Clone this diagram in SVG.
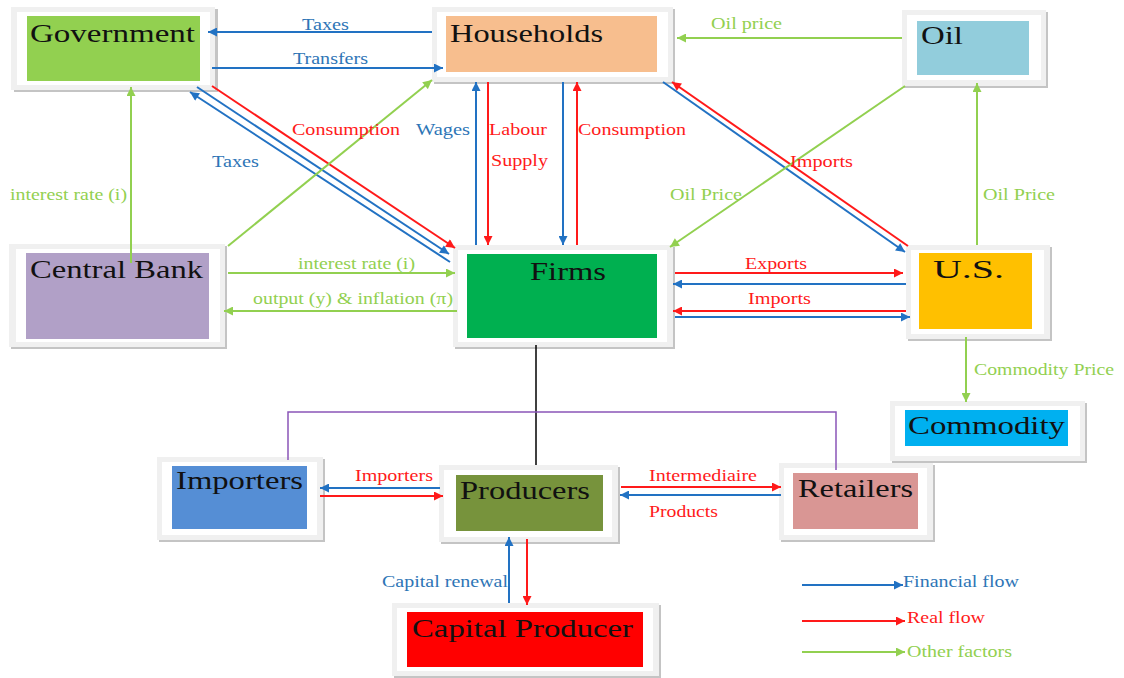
<svg xmlns="http://www.w3.org/2000/svg" width="1124" height="678" viewBox="0 0 1124 678">
<defs>
<style>
.sh{fill:#c4c4c4}
.fr{fill:#f0f0f0}
.wh{fill:#ffffff}
.nt{font-family:"Liberation Serif","Times New Roman",serif;font-size:25px;fill:#111111}
.lb{font-family:"Liberation Serif","Times New Roman",serif;font-size:16px}
.tb{fill:#2e75b6}
.tr{fill:#ff1a1a}
.tg{fill:#92d050}
.b{stroke:#2272c3;stroke-width:2;fill:none}
.r{stroke:#ff1a1a;stroke-width:2;fill:none}
.g{stroke:#92d050;stroke-width:2;fill:none}
.k{stroke:#000000;stroke-width:1.5;fill:none}
.p{stroke:#8a55b8;stroke-width:1.5;fill:none}
</style>
<marker id="mb" viewBox="0 0 10 10" refX="10" refY="5" markerWidth="11" markerHeight="9" markerUnits="userSpaceOnUse" orient="auto"><path d="M0,0L10,5L0,10z" fill="#2272c3"/></marker>
<marker id="mr" viewBox="0 0 10 10" refX="10" refY="5" markerWidth="11" markerHeight="9" markerUnits="userSpaceOnUse" orient="auto"><path d="M0,0L10,5L0,10z" fill="#ff1a1a"/></marker>
<marker id="mg" viewBox="0 0 10 10" refX="10" refY="5" markerWidth="11" markerHeight="9" markerUnits="userSpaceOnUse" orient="auto"><path d="M0,0L10,5L0,10z" fill="#92d050"/></marker>
</defs>
<rect width="1124" height="678" fill="#ffffff"/>

<g id="government">
<rect class="sh" x="14" y="9" width="204" height="83"/>
<rect class="fr" x="11" y="7" width="204" height="83"/>
<rect class="wh" x="17" y="12" width="193" height="73"/>
<rect x="27" y="16" width="173" height="65" fill="#92d050"/>
<text class="nt" x="30" y="42" textLength="165" lengthAdjust="spacingAndGlyphs">Government</text>
</g>
<g id="households">
<rect class="sh" x="434" y="9" width="241" height="75"/>
<rect class="fr" x="432" y="7" width="241" height="75"/>
<rect class="wh" x="437" y="12" width="231" height="65"/>
<rect x="446" y="16" width="211" height="56" fill="#f7be8e"/>
<text class="nt" x="450" y="42" textLength="153" lengthAdjust="spacingAndGlyphs">Households</text>
</g>
<g id="oil">
<rect class="sh" x="904" y="12" width="144" height="76"/>
<rect class="fr" x="902" y="10" width="144" height="76"/>
<rect class="wh" x="907" y="15" width="134" height="65"/>
<rect x="917" y="21" width="112" height="54" fill="#92cddc"/>
<text class="nt" x="921" y="44" font-size="24" textLength="42" lengthAdjust="spacingAndGlyphs">Oil</text>
</g>
<g id="central-bank">
<rect class="sh" x="11" y="246" width="216" height="103"/>
<rect class="fr" x="9" y="244" width="216" height="103"/>
<rect class="wh" x="16" y="249" width="204" height="93"/>
<rect x="26" y="253" width="183" height="86" fill="#b1a0c7"/>
<text class="nt" x="30" y="278" font-size="24" textLength="173" lengthAdjust="spacingAndGlyphs">Central Bank</text>
</g>
<g id="firms">
<rect class="sh" x="455" y="247" width="220" height="102"/>
<rect class="fr" x="453" y="245" width="220" height="102"/>
<rect class="wh" x="458" y="250" width="209" height="92"/>
<rect x="467" y="254" width="190" height="84" fill="#00b050"/>
<text class="nt" x="530" y="280" textLength="76" lengthAdjust="spacingAndGlyphs">Firms</text>
</g>
<g id="us">
<rect class="sh" x="908" y="247" width="144" height="94"/>
<rect class="fr" x="906" y="245" width="144" height="94"/>
<rect class="wh" x="911" y="250" width="133" height="84"/>
<rect x="919" y="253" width="113" height="76" fill="#ffc000"/>
<text class="nt" x="933" y="278" font-size="24" textLength="71" lengthAdjust="spacingAndGlyphs">U.S.</text>
</g>
<g id="commodity">
<rect class="sh" x="892" y="403" width="195" height="60"/>
<rect class="fr" x="890" y="401" width="195" height="60"/>
<rect class="wh" x="895" y="406" width="185" height="50"/>
<rect x="905" y="410" width="163" height="36" fill="#00b0f0"/>
<text class="nt" x="908" y="434" font-size="24" textLength="157" lengthAdjust="spacingAndGlyphs">Commodity</text>
</g>
<g id="importers">
<rect class="sh" x="159" y="459" width="166" height="83"/>
<rect class="fr" x="157" y="457" width="166" height="83"/>
<rect class="wh" x="162" y="462" width="155" height="73"/>
<rect x="172" y="466" width="135" height="63" fill="#558ed5"/>
<text class="nt" x="176" y="489" font-size="24" textLength="127" lengthAdjust="spacingAndGlyphs">Importers</text>
</g>
<g id="producers">
<rect class="sh" x="441" y="467" width="179" height="77"/>
<rect class="fr" x="439" y="465" width="179" height="77"/>
<rect class="wh" x="444" y="470" width="168" height="67"/>
<rect x="456" y="475" width="147" height="56" fill="#77933c"/>
<text class="nt" x="460" y="499" textLength="130" lengthAdjust="spacingAndGlyphs">Producers</text>
</g>
<g id="retailers">
<rect class="sh" x="781" y="465" width="154" height="77"/>
<rect class="fr" x="779" y="463" width="154" height="77"/>
<rect class="wh" x="784" y="468" width="143" height="67"/>
<rect x="793" y="473" width="125" height="56" fill="#d99694"/>
<text class="nt" x="798" y="497" font-size="24" textLength="115" lengthAdjust="spacingAndGlyphs">Retailers</text>
</g>
<g id="capital-producer">
<rect class="sh" x="394" y="605" width="267" height="73"/>
<rect class="fr" x="392" y="603" width="267" height="73"/>
<rect class="wh" x="397" y="608" width="256" height="63"/>
<rect x="407" y="612" width="236" height="55" fill="#ff0000"/>
<text class="nt" x="412" y="637" font-size="24" textLength="221" lengthAdjust="spacingAndGlyphs">Capital Producer</text>
</g>

<g id="connectors">
<line class="b" x1="432" y1="32" x2="208" y2="32" marker-end="url(#mb)"/>
<line class="b" x1="212" y1="68" x2="443" y2="68" marker-end="url(#mb)"/>
<line class="r" x1="212" y1="86" x2="455" y2="248" marker-end="url(#mr)"/>
<line class="b" x1="197" y1="87" x2="449" y2="254" marker-end="url(#mb)"/>
<line class="b" x1="450" y1="262" x2="190" y2="92" marker-end="url(#mb)"/>
<line class="g" x1="228" y1="246" x2="432" y2="80" marker-end="url(#mg)"/>
<line class="g" x1="131" y1="263" x2="131" y2="87" marker-end="url(#mg)"/>
<line class="g" x1="228" y1="273" x2="455" y2="273" marker-end="url(#mg)"/>
<line class="g" x1="457" y1="311" x2="224" y2="311" marker-end="url(#mg)"/>
<line class="b" x1="476" y1="245" x2="476" y2="82" marker-end="url(#mb)"/>
<line class="r" x1="488" y1="82" x2="488" y2="245" marker-end="url(#mr)"/>
<line class="b" x1="563" y1="82" x2="563" y2="245" marker-end="url(#mb)"/>
<line class="r" x1="577" y1="245" x2="577" y2="82" marker-end="url(#mr)"/>
<line class="b" x1="663" y1="82" x2="905" y2="252" marker-end="url(#mb)"/>
<line class="r" x1="908" y1="246" x2="672" y2="82" marker-end="url(#mr)"/>
<line class="g" x1="902" y1="38" x2="677" y2="38" marker-end="url(#mg)"/>
<line class="g" x1="905" y1="86" x2="670" y2="247" marker-end="url(#mg)"/>
<line class="g" x1="977" y1="245" x2="977" y2="83" marker-end="url(#mg)"/>
<line class="r" x1="675" y1="273" x2="903" y2="273" marker-end="url(#mr)"/>
<line class="b" x1="906" y1="284" x2="673" y2="284" marker-end="url(#mb)"/>
<line class="r" x1="906" y1="311" x2="673" y2="311" marker-end="url(#mr)"/>
<line class="b" x1="675" y1="317" x2="910" y2="317" marker-end="url(#mb)"/>
<line class="g" x1="966" y1="337" x2="966" y2="402" marker-end="url(#mg)"/>
<line class="k" x1="536" y1="345" x2="536" y2="465"/>
<polyline class="p" points="288,460 288,412 836,412 836,470"/>
<line class="b" x1="440" y1="488" x2="320" y2="488" marker-end="url(#mb)"/>
<line class="r" x1="320" y1="496" x2="443" y2="496" marker-end="url(#mr)"/>
<line class="r" x1="621" y1="487" x2="781" y2="487" marker-end="url(#mr)"/>
<line class="b" x1="781" y1="495" x2="620" y2="495" marker-end="url(#mb)"/>
<line class="b" x1="509" y1="603" x2="509" y2="537" marker-end="url(#mb)"/>
<line class="r" x1="527" y1="539" x2="527" y2="605" marker-end="url(#mr)"/>
<line class="b" x1="802" y1="585" x2="903" y2="585" marker-end="url(#mb)"/>
<line class="r" x1="802" y1="621" x2="905" y2="621" marker-end="url(#mr)"/>
<line class="g" x1="802" y1="652" x2="905" y2="652" marker-end="url(#mg)"/>
</g>

<g id="labels">
<text class="lb tb" x="302" y="30" textLength="47" lengthAdjust="spacingAndGlyphs">Taxes</text>
<text class="lb tb" x="293" y="64" textLength="75" lengthAdjust="spacingAndGlyphs">Transfers</text>
<text class="lb tr" x="292" y="135" textLength="108" lengthAdjust="spacingAndGlyphs">Consumption</text>
<text class="lb tb" x="212" y="167" textLength="47" lengthAdjust="spacingAndGlyphs">Taxes</text>
<text class="lb tg" x="10" y="200" textLength="117" lengthAdjust="spacingAndGlyphs">interest rate (i)</text>
<text class="lb tb" x="416" y="135" textLength="54" lengthAdjust="spacingAndGlyphs">Wages</text>
<text class="lb tr" x="489" y="135" textLength="58" lengthAdjust="spacingAndGlyphs">Labour</text>
<text class="lb tr" x="491" y="166" textLength="57" lengthAdjust="spacingAndGlyphs">Supply</text>
<text class="lb tr" x="578" y="135" textLength="108" lengthAdjust="spacingAndGlyphs">Consumption</text>
<text class="lb tg" x="711" y="29" textLength="71" lengthAdjust="spacingAndGlyphs">Oil price</text>
<text class="lb tr" x="790" y="167" textLength="63" lengthAdjust="spacingAndGlyphs">Imports</text>
<text class="lb tg" x="670" y="200" textLength="72" lengthAdjust="spacingAndGlyphs">Oil Price</text>
<text class="lb tg" x="983" y="200" textLength="72" lengthAdjust="spacingAndGlyphs">Oil Price</text>
<text class="lb tg" x="298" y="269" textLength="117" lengthAdjust="spacingAndGlyphs">interest rate (i)</text>
<text class="lb tg" x="253" y="304" textLength="200" lengthAdjust="spacingAndGlyphs">output (y) &amp; inflation (π)</text>
<text class="lb tr" x="745" y="269" textLength="62" lengthAdjust="spacingAndGlyphs">Exports</text>
<text class="lb tr" x="748" y="304" textLength="63" lengthAdjust="spacingAndGlyphs">Imports</text>
<text class="lb tg" x="974" y="375" textLength="140" lengthAdjust="spacingAndGlyphs">Commodity Price</text>
<text class="lb tr" x="355" y="481" textLength="78" lengthAdjust="spacingAndGlyphs">Importers</text>
<text class="lb tr" x="649" y="481" textLength="108" lengthAdjust="spacingAndGlyphs">Intermediaire</text>
<text class="lb tr" x="649" y="517" textLength="69" lengthAdjust="spacingAndGlyphs">Products</text>
<text class="lb tb" x="382" y="587" textLength="126" lengthAdjust="spacingAndGlyphs">Capital renewal</text>
<text class="lb tb" x="903" y="587" textLength="116" lengthAdjust="spacingAndGlyphs">Financial flow</text>
<text class="lb tr" x="907" y="623" textLength="78" lengthAdjust="spacingAndGlyphs">Real flow</text>
<text class="lb tg" x="907" y="657" textLength="105" lengthAdjust="spacingAndGlyphs">Other factors</text>
</g>
</svg>
